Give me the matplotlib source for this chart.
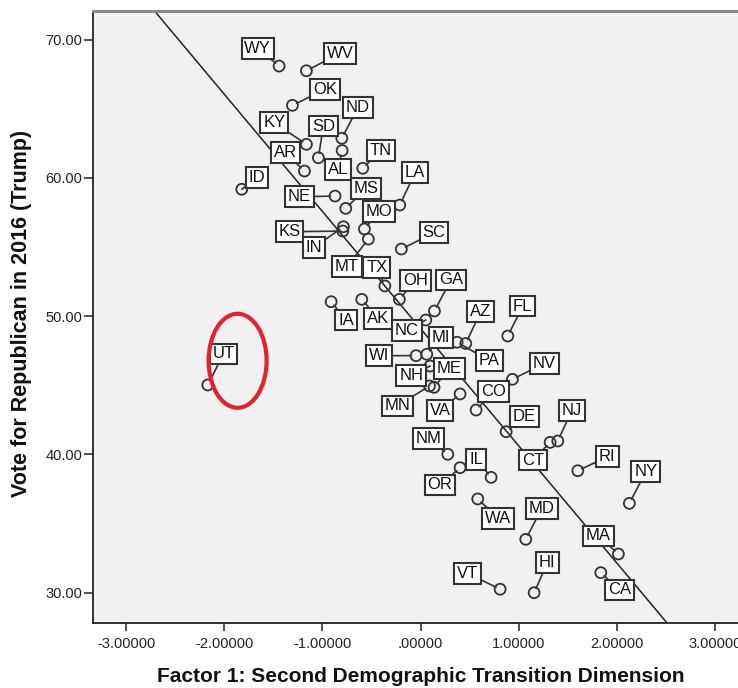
import matplotlib
matplotlib.use("Agg")
import matplotlib.pyplot as plt
from matplotlib.patches import Ellipse
import numpy as np

# ---------------- data ----------------
states = ["WY", "WV", "OK", "KY", "SD", "ND", "AL", "AR", "TN", "LA",
          "ID", "NE", "MS", "MO", "KS", "IN", "MT", "TX", "SC", "OH",
          "GA", "IA", "AK", "NC", "AZ", "PA", "MI", "WI", "NH", "ME",
          "MN", "VA", "CO", "NV", "FL", "DE", "NJ", "CT", "RI", "NY",
          "NM", "OR", "IL", "WA", "MD", "MA", "CA", "VT", "HI", "UT"]

factor1 = [-1.441, -1.163, -1.305, -1.163, -1.041, -0.802, -0.799, -1.183, -0.589, -0.212,
           -1.821, -0.871, -0.762, -0.572, -0.792, -0.786, -0.532, -0.364, -0.196, -0.216,
           0.141, -0.911, -0.599, 0.053, 0.460, 0.372, 0.063, -0.046, 0.097, 0.137,
           0.090, 0.402, 0.565, 0.935, 0.888, 0.871, 1.397, 1.319, 1.601, 2.126,
           0.277, 0.402, 0.718, 0.582, 1.071, 2.014, 1.835, 0.810, 1.156, -2.167]

trump_vote = [68.08, 67.74, 65.24, 62.42, 61.45, 62.86, 61.97, 60.49, 60.69, 58.03,
              59.17, 58.68, 57.79, 56.30, 56.15, 56.46, 55.57, 52.18, 54.85, 51.21,
              50.37, 51.04, 51.21, 49.72, 48.02, 48.11, 47.24, 47.14, 46.39, 44.85,
              44.95, 44.37, 43.21, 45.43, 48.56, 41.64, 40.97, 40.87, 38.82, 36.46,
              40.01, 39.04, 38.34, 36.78, 33.86, 32.80, 31.45, 30.25, 30.00, 45.02]

# fit line shown on the chart
fit_intercept = 49.09
fit_slope = -8.48

# highlighted state (red ellipse)
highlight_state = "UT"

x_ticks = [-3, -2, -1, 0, 1, 2, 3]
x_tick_labels = ["-3.00000", "-2.00000", "-1.00000", ".00000", "1.00000", "2.00000", "3.00000"]
y_ticks = [30, 40, 50, 60, 70]
y_tick_labels = ["30.00", "40.00", "50.00", "60.00", "70.00"]

# ---------------- layout: label offsets (pixels, x right / y down) ----------------
label_offsets = {
    "WY": (-21.3, -17.7), "WV": (33.7, -17.4), "OK": (32.7, -16), "KY": (-32, -21.6),
    "SD": (5, -31.7), "ND": (16, -30.6), "AL": (-4.3, 18.8), "AR": (-19.3, -18.3),
    "TN": (18, -17.6), "LA": (15.3, -32.3), "ID": (15, -12), "NE": (-35.7, 0.7),
    "MS": (20.3, -20), "MO": (14.7, -17.3), "KS": (-53.4, 0.7), "IN": (-29.3, 20.7),
    "MT": (-21.6, 27.7), "TX": (-8.1, -18.3), "SC": (32.7, -16.3), "OH": (16, -18.6),
    "GA": (16.4, -31), "IA": (15, 18.3), "AK": (16.6, 19), "NC": (-19, 10.7),
    "AZ": (15, -31.8), "PA": (32.3, 18.4), "MI": (14.3, -16.6), "WI": (-36.7, 0),
    "NH": (-19, 9.7), "ME": (15.3, -19), "MN": (-32, 20), "VA": (-20, 16.7),
    "CO": (17.3, -18.3), "NV": (32, -16), "FL": (15, -30), "DE": (18, -15),
    "NJ": (14, -30.3), "CT": (-17.3, 17.7), "RI": (29.6, -14), "NY": (16.4, -31.6),
    "NM": (-19.4, -16), "OR": (-20, 17.3), "IL": (-15, -18), "WA": (20.6, 19.3),
    "MD": (16, -31), "MA": (-20, -18), "CA": (18.6, 17.3), "VT": (-32.7, -16),
    "HI": (13.3, -30), "UT": (15.6, -31),
}

W, H = 738, 688
DPI = 100
fig = plt.figure(figsize=(W / DPI, H / DPI), dpi=DPI)
fig.patch.set_facecolor("white")

ax_left, ax_right, ax_top, ax_bottom = 93.3, 760.0, 10.7, 622.7
ax = fig.add_axes([ax_left / W, 1 - ax_bottom / H, (ax_right - ax_left) / W, (ax_bottom - ax_top) / H])
ax.set_facecolor("#f0f1f0")

px_per_x = 98.2
px_per_y = 13.83
x_min = -3 - (126.0 - ax_left) / px_per_x
x_max = x_min + (ax_right - ax_left) / px_per_x
y_min = 30 - (ax_bottom - 592.7) / px_per_y
y_max = y_min + (ax_bottom - ax_top) / px_per_y
ax.set_xlim(x_min, x_max)
ax.set_ylim(y_min, y_max)

edge = "#333333"
# fit line
ax.axline((0, fit_intercept), slope=fit_slope, color="#222222", lw=1.1, zorder=2)

# points
ax.scatter(factor1, trump_vote, s=62, facecolors="none", edgecolors=edge, linewidths=1.3, zorder=4)

for st, xv, yv in zip(states, factor1, trump_vote):
    dx, dy = label_offsets[st]
    ax.annotate(st, xy=(xv, yv), xytext=(dx, -dy), textcoords="offset pixels",
                ha="center", va="center", family="Liberation Sans", fontsize=12,
                color="#111111",
                bbox=dict(boxstyle="square,pad=0.17", fc="white", ec=edge, lw=1.5),
                arrowprops=dict(arrowstyle="-", color=edge, lw=1.2, shrinkA=0, shrinkB=3.3),
                zorder=5)

# red ellipse around the highlighted state (centre offset in pixels from its point)
hi = states.index(highlight_state)
hx, hy = factor1[hi], trump_vote[hi]
ell_dx_px, ell_dy_px, ell_w_px, ell_h_px = 29.8, -24.2, 58.0, 94.0
ell = Ellipse((hx + ell_dx_px / px_per_x, hy - ell_dy_px / px_per_y),
              width=ell_w_px / px_per_x, height=ell_h_px / px_per_y,
              fill=False, edgecolor="#e8202a", lw=3.0, zorder=6)
ax.add_patch(ell)

ax.set_xticks(x_ticks)
ax.set_xticklabels(x_tick_labels)
ax.set_yticks(y_ticks)
ax.set_yticklabels(y_tick_labels)
for lab in ax.get_xticklabels() + ax.get_yticklabels():
    lab.set_fontfamily("Liberation Sans")
    lab.set_fontsize(10.5)
    lab.set_color("#222222")
ax.tick_params(axis="x", direction="out", length=5.5, width=1.1, color="#222222", pad=5)
ax.tick_params(axis="y", direction="out", length=6.5, width=1.1, color="#222222", pad=1.2)

for side in ["left", "bottom"]:
    ax.spines[side].set_color("#222222")
    ax.spines[side].set_linewidth(1.3)
ax.spines["top"].set_color("#8a8a8a")
ax.spines["top"].set_linewidth(2.2)
ax.spines["right"].set_visible(False)

fig.text(421 / W, 1 - 676 / H, "Factor 1: Second Demographic Transition Dimension",
         ha="center", va="center", family="Liberation Sans", weight="bold", fontsize=15,
         color="#111111")
fig.text(22 / W, 1 - 313 / H, "Vote for Republican in 2016 (Trump)",
         ha="center", va="center", rotation=90, family="Liberation Sans", weight="bold",
         fontsize=15.5, color="#111111")

fig.savefig("out.png", dpi=DPI)
